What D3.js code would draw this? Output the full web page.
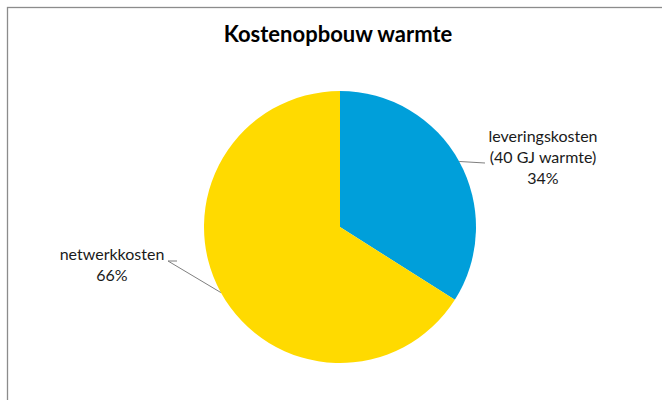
<!DOCTYPE html>
<html lang="nl">
<head>
    <meta charset="UTF-8">
    <title>Kostenopbouw warmte</title>
    <script src="https://cdn.jsdelivr.net/npm/d3@7"></script>
    <style>
        body { margin: 0; background: #fff; }
        .title { font-family: Lato, "Open Sans", sans-serif; font-weight: bold; font-size: 22px; fill: #000; }
        .slice-label { font-family: Lato, "Open Sans", sans-serif; font-size: 16px; fill: #1a1a1a; }
    </style>
</head>
<body>
<svg id="chart" width="662" height="400"></svg>
<script>
    // chart data
    const categories = ["leveringskosten", "netwerkkosten"];
    const labelLines = [["leveringskosten", "(40 GJ warmte)"], ["netwerkkosten"]];
    const shares = [34, 66];
    const colors = ["#009fda", "#ffda00"];

    const svg = d3.select("#chart");

    // chart frame (runs off the right and bottom edge)
    svg.append("rect")
        .attr("x", 7.5).attr("y", 7.5)
        .attr("width", 700).attr("height", 420)
        .attr("fill", "none")
        .attr("stroke", "#8c8c8c")
        .attr("stroke-width", 1.3);

    svg.append("text")
        .attr("class", "title")
        .attr("x", 338).attr("y", 42)
        .attr("text-anchor", "middle")
        .text("Kostenopbouw warmte");

    const cx = 340, cy = 227, radius = 136;
    const g = svg.append("g").attr("transform", `translate(${cx},${cy})`);

    const data = categories.map((c, i) => ({ name: c, value: shares[i], lines: labelLines[i], color: colors[i] }));

    const pie = d3.pie().sort(null).value(d => d.value);
    const arc = d3.arc().innerRadius(0).outerRadius(radius);
    const arcs = pie(data);

    g.selectAll("path.slice")
        .data(arcs)
        .enter()
        .append("path")
        .attr("class", "slice")
        .attr("d", arc)
        .attr("fill", d => d.data.color);

    // label placement (offsets from the pie centre)
    const labelPos = [
        { x: 203, y: -85, lead: [[145, -64]] },
        { x: -228, y: 33, lead: [[-163, 34], [-172, 34]] }
    ];

    arcs.forEach((a, i) => {
        const mid = (a.startAngle + a.endAngle) / 2;
        const edge = [radius * Math.sin(mid), -radius * Math.cos(mid)];
        const pts = [edge].concat(labelPos[i].lead.slice().reverse());
        g.append("path")
            .attr("d", d3.line()(pts))
            .attr("fill", "none")
            .attr("stroke", "#7f7f7f")
            .attr("stroke-width", 1);

        const t = g.append("text")
            .attr("class", "slice-label")
            .attr("text-anchor", "middle");
        const lines = a.data.lines.concat([d3.format(".0f")(a.data.value) + "%"]);
        lines.forEach((line, j) => {
            t.append("tspan")
                .attr("x", labelPos[i].x)
                .attr("y", labelPos[i].y + j * 21)
                .text(line);
        });
    });
</script>
</body>
</html>
